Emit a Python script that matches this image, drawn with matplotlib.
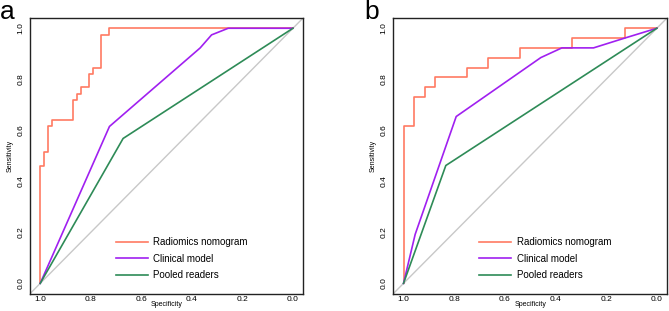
import matplotlib
matplotlib.use("Agg")
import matplotlib.pyplot as plt
import numpy as np

plt.rcParams['font.family'] = ['Liberation Sans', 'DejaVu Sans']

# Panel a: step ROC for radiomics nomogram (specificity, sensitivity vertices)
a_rad_spec = [1.0, 1.0, 0.984, 0.984, 0.968, 0.968, 0.952, 0.952, 0.871, 0.871, 0.855, 0.855,
              0.839, 0.839, 0.806, 0.806, 0.790, 0.790, 0.758, 0.758, 0.726, 0.726, 0.0]
a_rad_sens = [0.0, 0.462, 0.462, 0.513, 0.513, 0.615, 0.615, 0.641, 0.641, 0.718, 0.718, 0.744,
              0.744, 0.769, 0.769, 0.821, 0.821, 0.846, 0.846, 0.974, 0.974, 1.0, 1.0]
a_cli_spec = [1.0, 0.726, 0.367, 0.322, 0.256, 0.0]
a_cli_sens = [0.0, 0.615, 0.923, 0.974, 1.0, 1.0]
a_pool_spec = [1.0, 0.672, 0.0]
a_pool_sens = [0.0, 0.568, 1.0]

# Panel b
b_rad_spec = [1.0, 1.0, 0.958, 0.958, 0.917, 0.917, 0.875, 0.875, 0.750, 0.750, 0.667, 0.667,
              0.542, 0.542, 0.333, 0.333, 0.125, 0.125, 0.0]
b_rad_sens = [0.0, 0.615, 0.615, 0.731, 0.731, 0.769, 0.769, 0.808, 0.808, 0.846, 0.846, 0.885,
              0.885, 0.923, 0.923, 0.962, 0.962, 1.0, 1.0]
b_cli_spec = [1.0, 0.954, 0.792, 0.458, 0.375, 0.250, 0.125, 0.0]
b_cli_sens = [0.0, 0.192, 0.654, 0.885, 0.923, 0.923, 0.962, 1.0]
b_pool_spec = [1.0, 0.833, 0.0]
b_pool_sens = [0.0, 0.462, 1.0]

labels = ["Radiomics nomogram", "Clinical model", "Pooled readers"]
colors = ["#FF7A62", "#A020F0", "#2E8B57"]
ticks = [1.0, 0.8, 0.6, 0.4, 0.2, 0.0]
tick_labels = ["1.0", "0.8", "0.6", "0.4", "0.2", "0.0"]
ytick_labels = ["0.0", "0.2", "0.4", "0.6", "0.8", "1.0"]

fig = plt.figure(figsize=(6.69, 3.11), dpi=100)
panels = [
    ("a", [0.045, 0.056, 0.408, 0.886], (a_rad_spec, a_rad_sens), (a_cli_spec, a_cli_sens), (a_pool_spec, a_pool_sens)),
    ("b", [0.588, 0.056, 0.409, 0.886], (b_rad_spec, b_rad_sens), (b_cli_spec, b_cli_sens), (b_pool_spec, b_pool_sens)),
]
letter_x = {"a": 0.0, "b": 0.545}
for letter, rect, rad, cli, pool in panels:
    ax = fig.add_axes(rect)
    ax.set_xlim(1.04, -0.04)
    ax.set_ylim(-0.04, 1.04)
    ax.plot([1.04, -0.04], [-0.04, 1.04], color="#C8C8C8", lw=1.0, zorder=1)
    for (sx, sy), c, lab in zip([rad, cli, pool], colors, labels):
        ax.plot(sx, sy, color=c, lw=1.2, label=lab, zorder=2)
    ax.set_xticks(ticks)
    ax.set_xticklabels(tick_labels)
    ax.set_yticks(ticks[::-1])
    ax.set_yticklabels(ytick_labels, rotation=90, va="center")
    ax.tick_params(axis="x", length=0, labelsize=6, pad=1.5)
    ax.tick_params(axis="y", length=0, labelsize=6, pad=4)
    ax.set_xlabel("Specificity", fontsize=5, va="top")
    ax.set_ylabel("Sensitivity", fontsize=5)
    ax.xaxis.set_label_coords(0.5, -0.026)
    ax.yaxis.set_label_coords(-0.06, 0.5)
    for s in ax.spines.values():
        s.set_linewidth(1.0)
        s.set_color("#222222")
    ax.legend(loc="lower left", bbox_to_anchor=(0.30, 0.035), frameon=False, fontsize=7,
              handlelength=3.3, handletextpad=0.55, labelspacing=0.65, borderaxespad=0)
    fig.text(letter_x[letter], 1.0, letter, fontsize=19, va="top", ha="left")

fig.savefig("out.png", dpi=100)
